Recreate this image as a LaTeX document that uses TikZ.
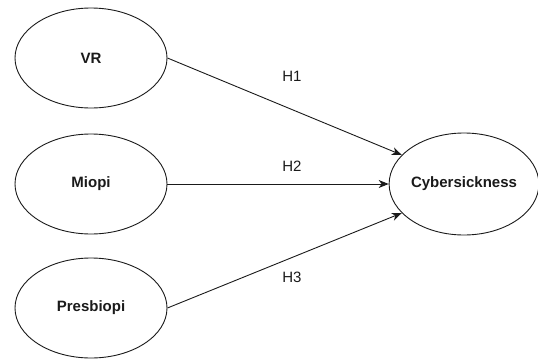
\documentclass[tikz,border=0pt]{standalone}
\usepackage{fontspec}
\setmainfont{Liberation Sans}
\usetikzlibrary{arrows.meta,shapes.geometric}
\definecolor{ink}{HTML}{1A1A1A}
\tikzset{
  construct/.style={ellipse,draw=ink,line width=0.9pt,inner sep=0pt,
    minimum width=152pt,minimum height=100pt,font=\fontsize{15}{18}\selectfont\bfseries\color{ink}},
  hyplink/.style={-{Stealth[length=10pt,width=8pt,inset=3pt]},draw=ink,line width=0.9pt},
  hyplabel/.style={font=\fontsize{15}{18}\selectfont\color{ink}}
}
\begin{document}
\begin{tikzpicture}[x=1pt,y=1pt]
        \useasboundingbox (0,0) rectangle (538,360);
        \node[construct] (vr) at (91,302) {VR};
        \node[construct] (miopi) at (91,176) {Miopi};
        \node[construct] (presbiopi) at (91,52) {Presbiopi};
        \node[construct,minimum width=145pt,minimum height=102pt] (cyber) at (464,176) {Cybersickness};
        \foreach \src/\ang in {vr/155,miopi/180,presbiopi/205}{
          \draw[hyplink] (\src.east) -- (cyber.\ang);}
        \foreach \lbl/\y in {h1/284,h2/194,h3/83}{
          \node[hyplabel] (\lbl) at (292,\y) {\MakeUppercase{\lbl}};}
      \end{tikzpicture}
\end{document}
